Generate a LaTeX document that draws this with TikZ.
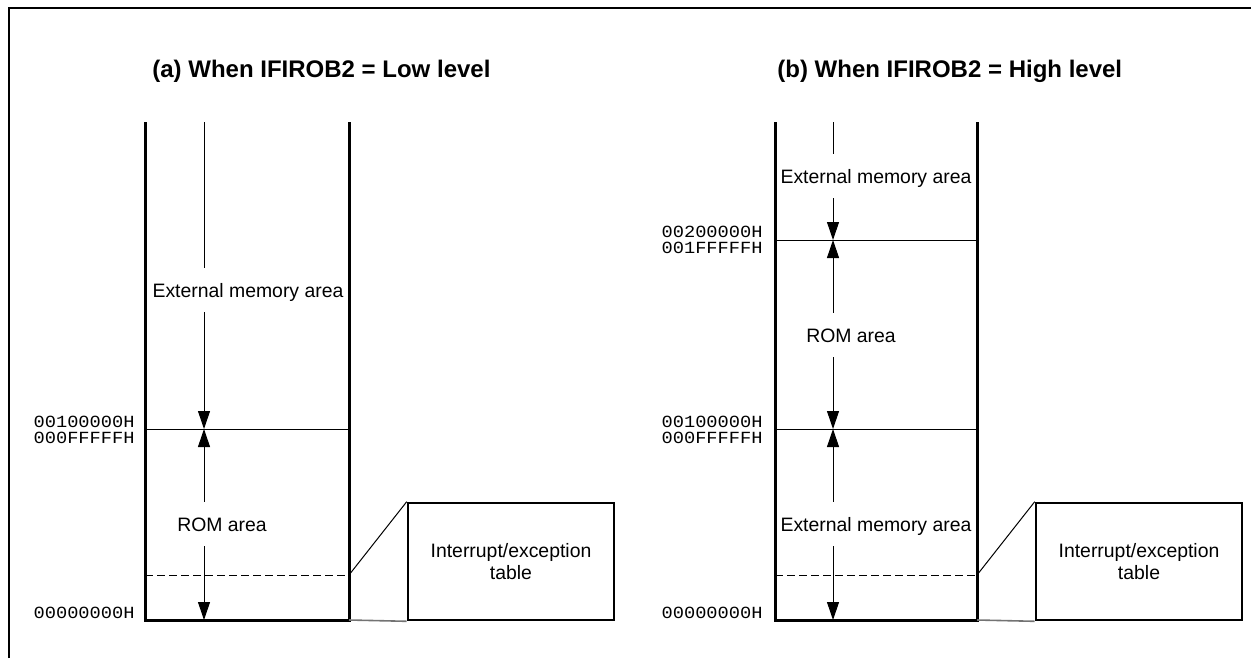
\documentclass[tikz,border=0pt]{standalone}
\usepackage{fontspec}
\setmainfont{Liberation Sans}
\setmonofont[FakeStretch=1.1]{Liberation Mono}
\usetikzlibrary{arrows.meta,positioning,calc}

\begin{document}
\begin{tikzpicture}[
  x=0.5pt, y=-0.5pt,
  wall/.style={line width=1.5pt},
  sep/.style={line width=0.5pt},
  cutline/.style={line width=0.5pt, dash pattern=on 4pt off 2pt},
  link/.style={line width=0.8pt, draw=black!55},
  arr/.style={-{Triangle[length=9pt,width=6pt]}, line width=0.5pt},
  area/.style={font=\fontsize{9.7}{11}\selectfont, text height=7pt, text depth=0pt, inner xsep=0pt, inner ysep=7.5pt},
  addr/.style={font=\ttfamily\fontsize{8.5}{8.5}\selectfont, anchor=base east, inner sep=0pt},
  tbl/.style={draw, line width=1.3pt, align=center, minimum width=103pt, minimum height=58.5pt, inner sep=0pt, font=\fontsize{9.7}{11}\selectfont},
  ttl/.style={font=\bfseries\fontsize{12}{14}\selectfont, anchor=base west, inner sep=0pt}
]
\useasboundingbox (0,0) rectangle (1251,658);
\draw[line width=1pt] (9,658) -- (9,8) -- (1251,8);

% (a) low level
\node[ttl] (aTitle) at (152,78) {(a) When IFIROB2 = Low level};
\coordinate (aTL) at (145,122);
\coordinate (aBL) at (145,620);
\coordinate (aBR) at (349,620);
\coordinate (aTR) at (349,122);
\draw[wall] (aTL) -- (aBL) -- (aBR) -- (aTR);
\draw[sep] (145,429) -- (349,429);
\coordinate (aCut) at (349,575);
\draw[cutline] (145,575) -- (aCut);

\node[area] (aExt) at (248,290) {External memory area};
\node[area] (aRom) at (222,524) {ROM area};
\coordinate (aTop) at (204,122);
\coordinate (aMid) at (204,429);
\coordinate (aBot) at (204,620);
\draw[sep] (aTop) -- (aTop |- aExt.north);
\draw[arr] (aTop |- aExt.south) -- (aMid);
\draw[arr] (aMid |- aRom.north) -- (aMid);
\draw[arr] (aMid |- aRom.south) -- (aBot);

\node[addr] (aHi) at (135,427) {00100000H};
\node[addr] (aLo) at (135,443) {000FFFFFH};
\node[addr] (aZero) at (135,618) {00000000H};

\node[tbl] (aTbl) at (511,561.5) {Interrupt/exception\\table};
\draw[sep] (aCut) -- (aTbl.north west);
\draw[link] (aBR) -- (aTbl.south west);

% (b) high level
\node[ttl] (bTitle) at (777,78) {(b) When IFIROB2 = High level};
\coordinate (bTL) at (775,122);
\coordinate (bBL) at (775,620);
\coordinate (bBR) at (977,620);
\coordinate (bTR) at (977,122);
\draw[wall] (bTL) -- (bBL) -- (bBR) -- (bTR);
\draw[sep] (775,240) -- (977,240);
\draw[sep] (775,429) -- (977,429);
\coordinate (bCut) at (977,575);
\draw[cutline] (775,575) -- (bCut);

\node[area] (bExtHi) at (876,176) {External memory area};
\node[area] (bRom) at (851,335) {ROM area};
\node[area] (bExtLo) at (876,524) {External memory area};
\coordinate (bTop) at (833,122);
\coordinate (bUp) at (833,240);
\coordinate (bMid) at (833,429);
\coordinate (bBot) at (833,620);
\draw[sep] (bTop) -- (bTop |- bExtHi.north);
\draw[arr] (bTop |- bExtHi.south) -- (bUp);
\draw[arr] (bUp |- bRom.north) -- (bUp);
\draw[arr] (bUp |- bRom.south) -- (bMid);
\draw[arr] (bMid |- bExtLo.north) -- (bMid);
\draw[arr] (bMid |- bExtLo.south) -- (bBot);

\node[addr] (bHi2) at (763,237) {00200000H};
\node[addr] (bLo2) at (763,253) {001FFFFFH};
\node[addr] (bHi) at (763,427) {00100000H};
\node[addr] (bLo) at (763,443) {000FFFFFH};
\node[addr] (bZero) at (763,618) {00000000H};

\node[tbl] (bTbl) at (1139,561.5) {Interrupt/exception\\table};
\draw[sep] (bCut) -- (bTbl.north west);
\draw[link] (bBR) -- (bTbl.south west);
\end{tikzpicture}
\end{document}
